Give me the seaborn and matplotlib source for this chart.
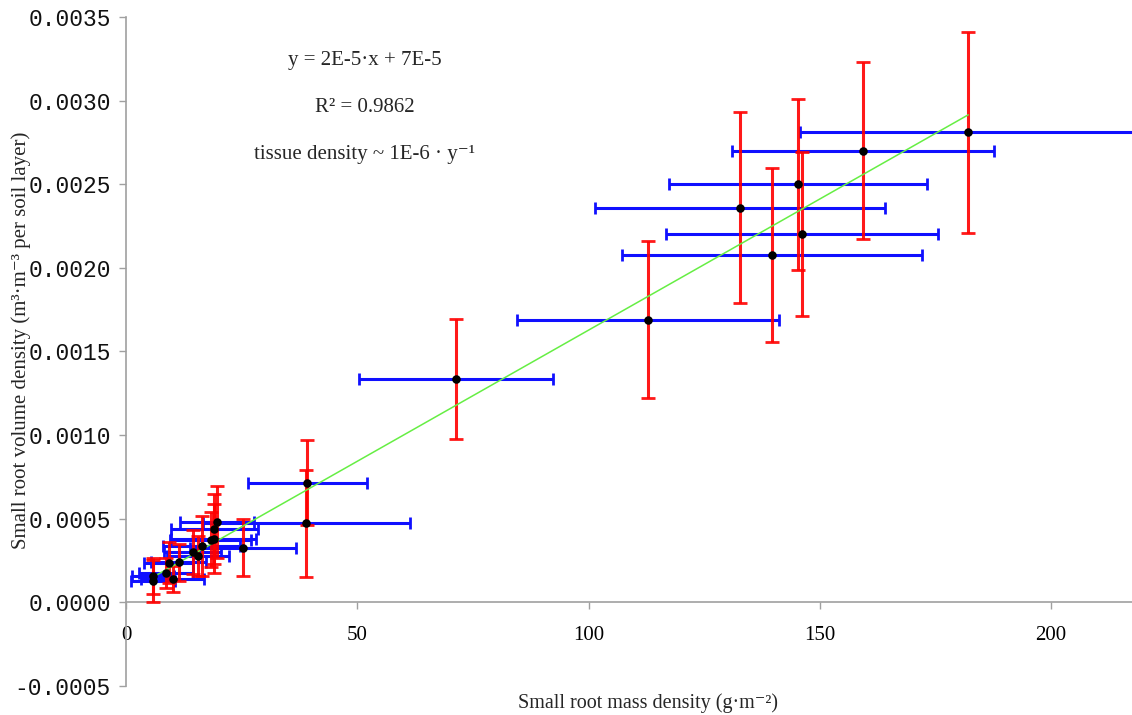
import numpy as np
import pandas as pd
import matplotlib
matplotlib.use("Agg")
import matplotlib.pyplot as plt
import seaborn as sns

# Small root mass density (g m-2) and its spread
mass = [5.8, 5.8, 8.7, 10.1, 9.2, 11.4, 14.4, 15.6, 16.4, 18.3, 19.0, 19.1, 19.7,
        25.3, 39.2, 39.0, 71.4, 112.8, 132.7, 139.7, 145.2, 146.2, 159.3, 182.1]
mass_err = [4.5, 4.8, 5.8, 6.8, 5.3, 6.0, 6.2, 6.7, 8.3, 8.7, 9.2, 9.4, 8.0,
            11.4, 12.9, 22.4, 21.0, 28.3, 31.4, 32.5, 27.9, 29.4, 28.3, 36.4]

# Small root volume density (m3 m-3 per soil layer) and its spread
volume = [0.000158, 0.000130, 0.000174, 0.000140, 0.000238, 0.000240, 0.000300,
          0.000275, 0.000337, 0.000375, 0.000381, 0.000437, 0.000483, 0.000327,
          0.000716, 0.000473, 0.001336, 0.00169, 0.00236, 0.002075, 0.0025,
          0.0022, 0.0027, 0.00281]
volume_err = [0.00011, 0.000125, 0.00009, 0.00008, 0.00012, 0.00011, 0.00013,
              0.00012, 0.00018, 0.000165, 0.000207, 0.00021, 0.000215, 0.00017,
              0.000255, 0.00032, 0.00036, 0.00047, 0.00057, 0.00052, 0.00051,
              0.00049, 0.00053, 0.0006]

x_ticks = [0, 50, 100, 150, 200]
y_ticks = [-0.0005, 0.0, 0.0005, 0.0010, 0.0015, 0.0020, 0.0025, 0.0030, 0.0035]

fit_lines = ["y = 2E-5\u00b7x + 7E-5",
             "R\u00b2 = 0.9862",
             "tissue density ~ 1E-6 \u00b7 y\u207b\u00b9"]

df = pd.DataFrame({"mass": mass, "volume": volume})

sns.set_theme(style="white")
serif = ["Liberation Serif", "DejaVu Serif"]
mono = ["Liberation Mono", "DejaVu Sans Mono"]
plt.rcParams["font.family"] = serif

fig = plt.figure(figsize=(11.32, 7.15), dpi=100)
ax = fig.add_axes([126 / 1132, 1 - 686 / 715, 1 - 126 / 1132, (686 - 17) / 715])

axis_grey = "#a0a0a0"

# horizontal spread (mass)
ax.errorbar(mass, volume, xerr=mass_err, fmt="none", ecolor="#1010ff",
            elinewidth=2.2, capsize=4.5, capthick=2.0, zorder=2)
# vertical spread (volume)
ax.errorbar(mass, volume, yerr=volume_err, fmt="none", ecolor="#ff0000",
            elinewidth=2.2, capsize=5.0, capthick=2.0, alpha=0.9, zorder=3)

# linear trend line over the data range
sns.regplot(data=df, x="mass", y="volume", scatter=False, ci=None, ax=ax,
            line_kws={"color": "#66ee44", "lw": 1.1, "zorder": 4})

sns.scatterplot(data=df, x="mass", y="volume", ax=ax, color="black",
                s=38, edgecolor="black", linewidth=0, zorder=5)

ax.set_xlim(0, 217.5)
ax.set_ylim(-0.0005, 0.0035)
ax.set_xlabel("")
ax.set_ylabel("")

# axis lines: x axis crosses at zero volume
for side in ("top", "right"):
    ax.spines[side].set_visible(False)
ax.spines["bottom"].set_position(("data", 0))
for side in ("left", "bottom"):
    ax.spines[side].set_color(axis_grey)
    ax.spines[side].set_linewidth(1.2)

ax.set_xticks(x_ticks)
ax.set_yticks(y_ticks)
ax.set_xticklabels([str(t) for t in x_ticks])
ax.set_yticklabels([f"{t:.4f}" for t in y_ticks])
for lab in ax.get_xticklabels():
    lab.set_fontfamily(serif)
    lab.set_fontsize(15)
for lab in ax.get_yticklabels():
    lab.set_fontfamily(mono)
    lab.set_fontsize(16.5)

ax.tick_params(axis="x", direction="out", length=5, width=1, color=axis_grey,
               pad=12, bottom=True, labelcolor="black")
ax.tick_params(axis="y", direction="out", length=5, width=1, color=axis_grey,
               pad=6, left=True, labelcolor="#111111")

fig.text(21 / 1132, 1 - 340 / 715,
         "Small root volume density (m\u00b3\u00b7m\u207b\u00b3 per soil layer)",
         rotation=90, ha="center", va="center", fontsize=15, family=serif)
fig.text(648 / 1132, 1 - 703 / 715, "Small root mass density (g\u00b7m\u207b\u00b2)",
         ha="center", va="center", fontsize=14.5, family=serif)

for txt, ypix in zip(fit_lines, [60, 107, 155]):
    fig.text(365 / 1132, 1 - ypix / 715, txt, ha="center", va="center",
             fontsize=15, family=serif)

fig.savefig("out.png", dpi=100)
